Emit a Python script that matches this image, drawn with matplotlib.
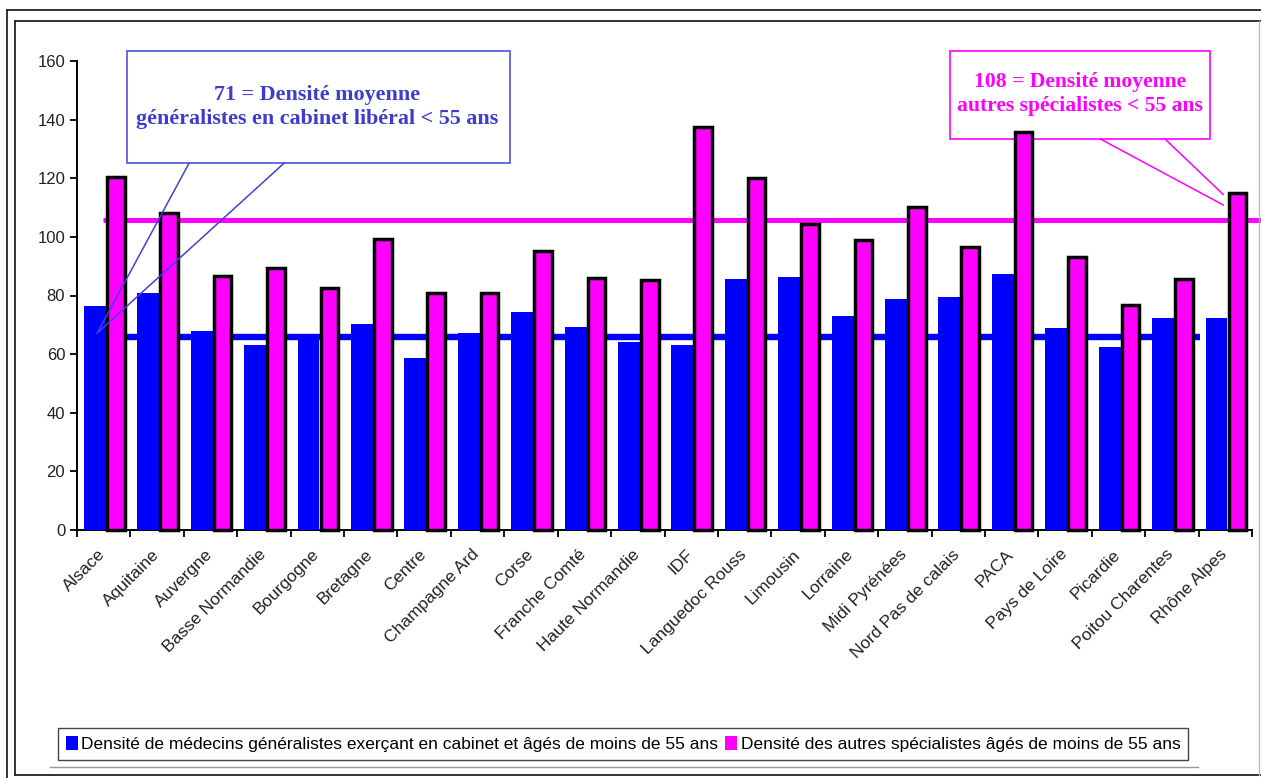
import matplotlib
matplotlib.use("Agg")
import matplotlib.pyplot as plt
from matplotlib.patches import Patch, Rectangle
from matplotlib.lines import Line2D
import numpy as np

# === données ===
regions = ["Alsace", "Aquitaine", "Auvergne", "Basse Normandie", "Bourgogne",
           "Bretagne", "Centre", "Champagne Ard", "Corse", "Franche Comté",
           "Haute Normandie", "IDF", "Languedoc Rouss", "Limousin", "Lorraine",
           "Midi Pyrénées", "Nord Pas de calais", "PACA", "Pays de Loire",
           "Picardie", "Poitou Charentes", "Rhône Alpes"]
generalistes = [76.5, 80.8, 67.9, 63.1, 66.0, 70.2, 58.8, 67.3, 74.3, 69.4, 64.3,
                63.1, 85.6, 86.4, 73.0, 78.7, 79.4, 87.2, 68.8, 62.3, 72.2, 72.2]
specialistes = [120.5, 108.0, 86.7, 89.5, 82.5, 99.3, 80.8, 81.0, 95.2, 86.1, 85.3,
                137.6, 120.2, 104.5, 98.9, 110.3, 96.7, 135.9, 93.0, 76.8, 85.5, 115.1]
ligne_gen = 65.8
ligne_spe = 105.6
yticks = [0, 20, 40, 60, 80, 100, 120, 140, 160]
leg_gen = "Densité de médecins généralistes exerçant en cabinet et âgés de moins de 55 ans"
leg_spe = "Densité des autres spécialistes âgés de moins de 55 ans"
txt_gen = "71 = Densité moyenne\ngénéralistes en cabinet libéral < 55 ans"
txt_spe = "108 = Densité moyenne\nautres spécialistes < 55 ans"

BLEU = "#0000ff"
ROSE = "#ff00ff"
W, H = 1261, 778

plt.rcParams["font.family"] = ["Liberation Sans", "DejaVu Sans"]

fig = plt.figure(figsize=(W / 100, H / 100), dpi=100)
ax = fig.add_axes([77 / W, 1 - 530 / H, (1252 - 77) / W, (530 - 61) / H])

x = np.arange(len(regions))
ax.bar(x - 0.37, generalistes, width=0.41, align="edge", color=BLEU, zorder=3)
ax.bar(x + 0.06, specialistes, width=0.33, align="edge", color=ROSE,
       edgecolor="black", linewidth=2.5, zorder=3, clip_on=False)

# lignes des moyennes
ax.plot([-0.26, 20.53], [ligne_gen, ligne_gen], color=BLEU, lw=4.6, zorder=2,
        solid_capstyle="butt")
ax.plot([-0.01, 21.7], [ligne_spe, ligne_spe], color=ROSE, lw=3.6, zorder=2,
        solid_capstyle="butt", clip_on=False)

ax.set_xlim(-0.5, len(regions) - 0.5)
ax.set_ylim(0, 160)
ax.set_yticks(yticks)
# étiquettes légèrement décalées vers la gauche, comme dans l'original
ax.set_xticks(x - 0.11)
ax.set_xticklabels(regions, rotation=45, ha="right", rotation_mode="anchor",
                   fontsize=12.5, color="#222222")
ax.set_xticks(np.arange(-0.5, len(regions)), minor=True)
ax.tick_params(axis="x", which="major", length=0, pad=12)
ax.tick_params(axis="x", which="minor", length=5, width=1.3)
ax.tick_params(axis="y", length=5, width=1.3, labelsize=12, labelcolor="#222222")
for s in ["top", "right"]:
    ax.spines[s].set_visible(False)
for s in ["left", "bottom"]:
    ax.spines[s].set_linewidth(1.4)

# encadré généralistes
ax.add_patch(Rectangle((0.436, 125.2), 7.17, 38.2, facecolor="white",
                       edgecolor="#5050e0", lw=1.2, clip_on=False, zorder=1))
ax.text(4.0, 144.3, txt_gen, ha="center", va="center", fontsize=15.8,
        family="Liberation Serif", weight="bold", color="#3c3cd0",
        linespacing=1.25, zorder=6)
for xs in [1.6, 3.38]:
    ax.plot([xs, -0.12], [125.2, 67.2], color="#4040e0", lw=1.1, zorder=4)

# encadré spécialistes
ax.add_patch(Rectangle((15.85, 133.4), 4.87, 30.0, facecolor="white",
                       edgecolor=ROSE, lw=1.2, clip_on=False, zorder=1))
ax.text(18.28, 148.8, txt_spe, ha="center", va="center", fontsize=15.6,
        family="Liberation Serif", weight="bold", color=ROSE,
        linespacing=1.25, zorder=6)
ax.plot([18.66, 20.96], [133.4, 110.9], color=ROSE, lw=1.1, zorder=4, clip_on=False)
ax.plot([19.87, 20.96], [133.4, 114.5], color=ROSE, lw=1.1, zorder=4, clip_on=False)

# légende
handles = [Patch(facecolor=BLEU, edgecolor="none"), Patch(facecolor=ROSE, edgecolor="none")]
fig.legend(handles, [leg_gen, leg_spe], loc="center", bbox_to_anchor=(623 / W, 1 - 744 / H),
           ncol=2, fontsize=12.5, frameon=True, fancybox=False, edgecolor="#444444",
           handlelength=0.7, handleheight=0.9, handletextpad=0.2, columnspacing=0.4,
           borderpad=0.45, framealpha=1)

# cadres extérieurs
def fl(x0, y0, x1, y1, **kw):
    fig.add_artist(Line2D([x0 / W, x1 / W], [1 - y0 / H, 1 - y1 / H], **kw))

fl(7, 10, W, 10, color="#222222", lw=1.3)
fl(15, 21, W, 21, color="#222222", lw=1.3)
fl(7, 10, 7, H, color="#222222", lw=1.3)
fl(15, 21, 15, 775, color="#222222", lw=1.3)
fl(15, 775, W, 775, color="#222222", lw=1.3)
fl(1259, 21, 1259, 775, color="#bbbbbb", lw=1.0)
fl(50, 767, 1198, 767, color="#999999", lw=1.0)

fig.savefig("out.png", dpi=100)
